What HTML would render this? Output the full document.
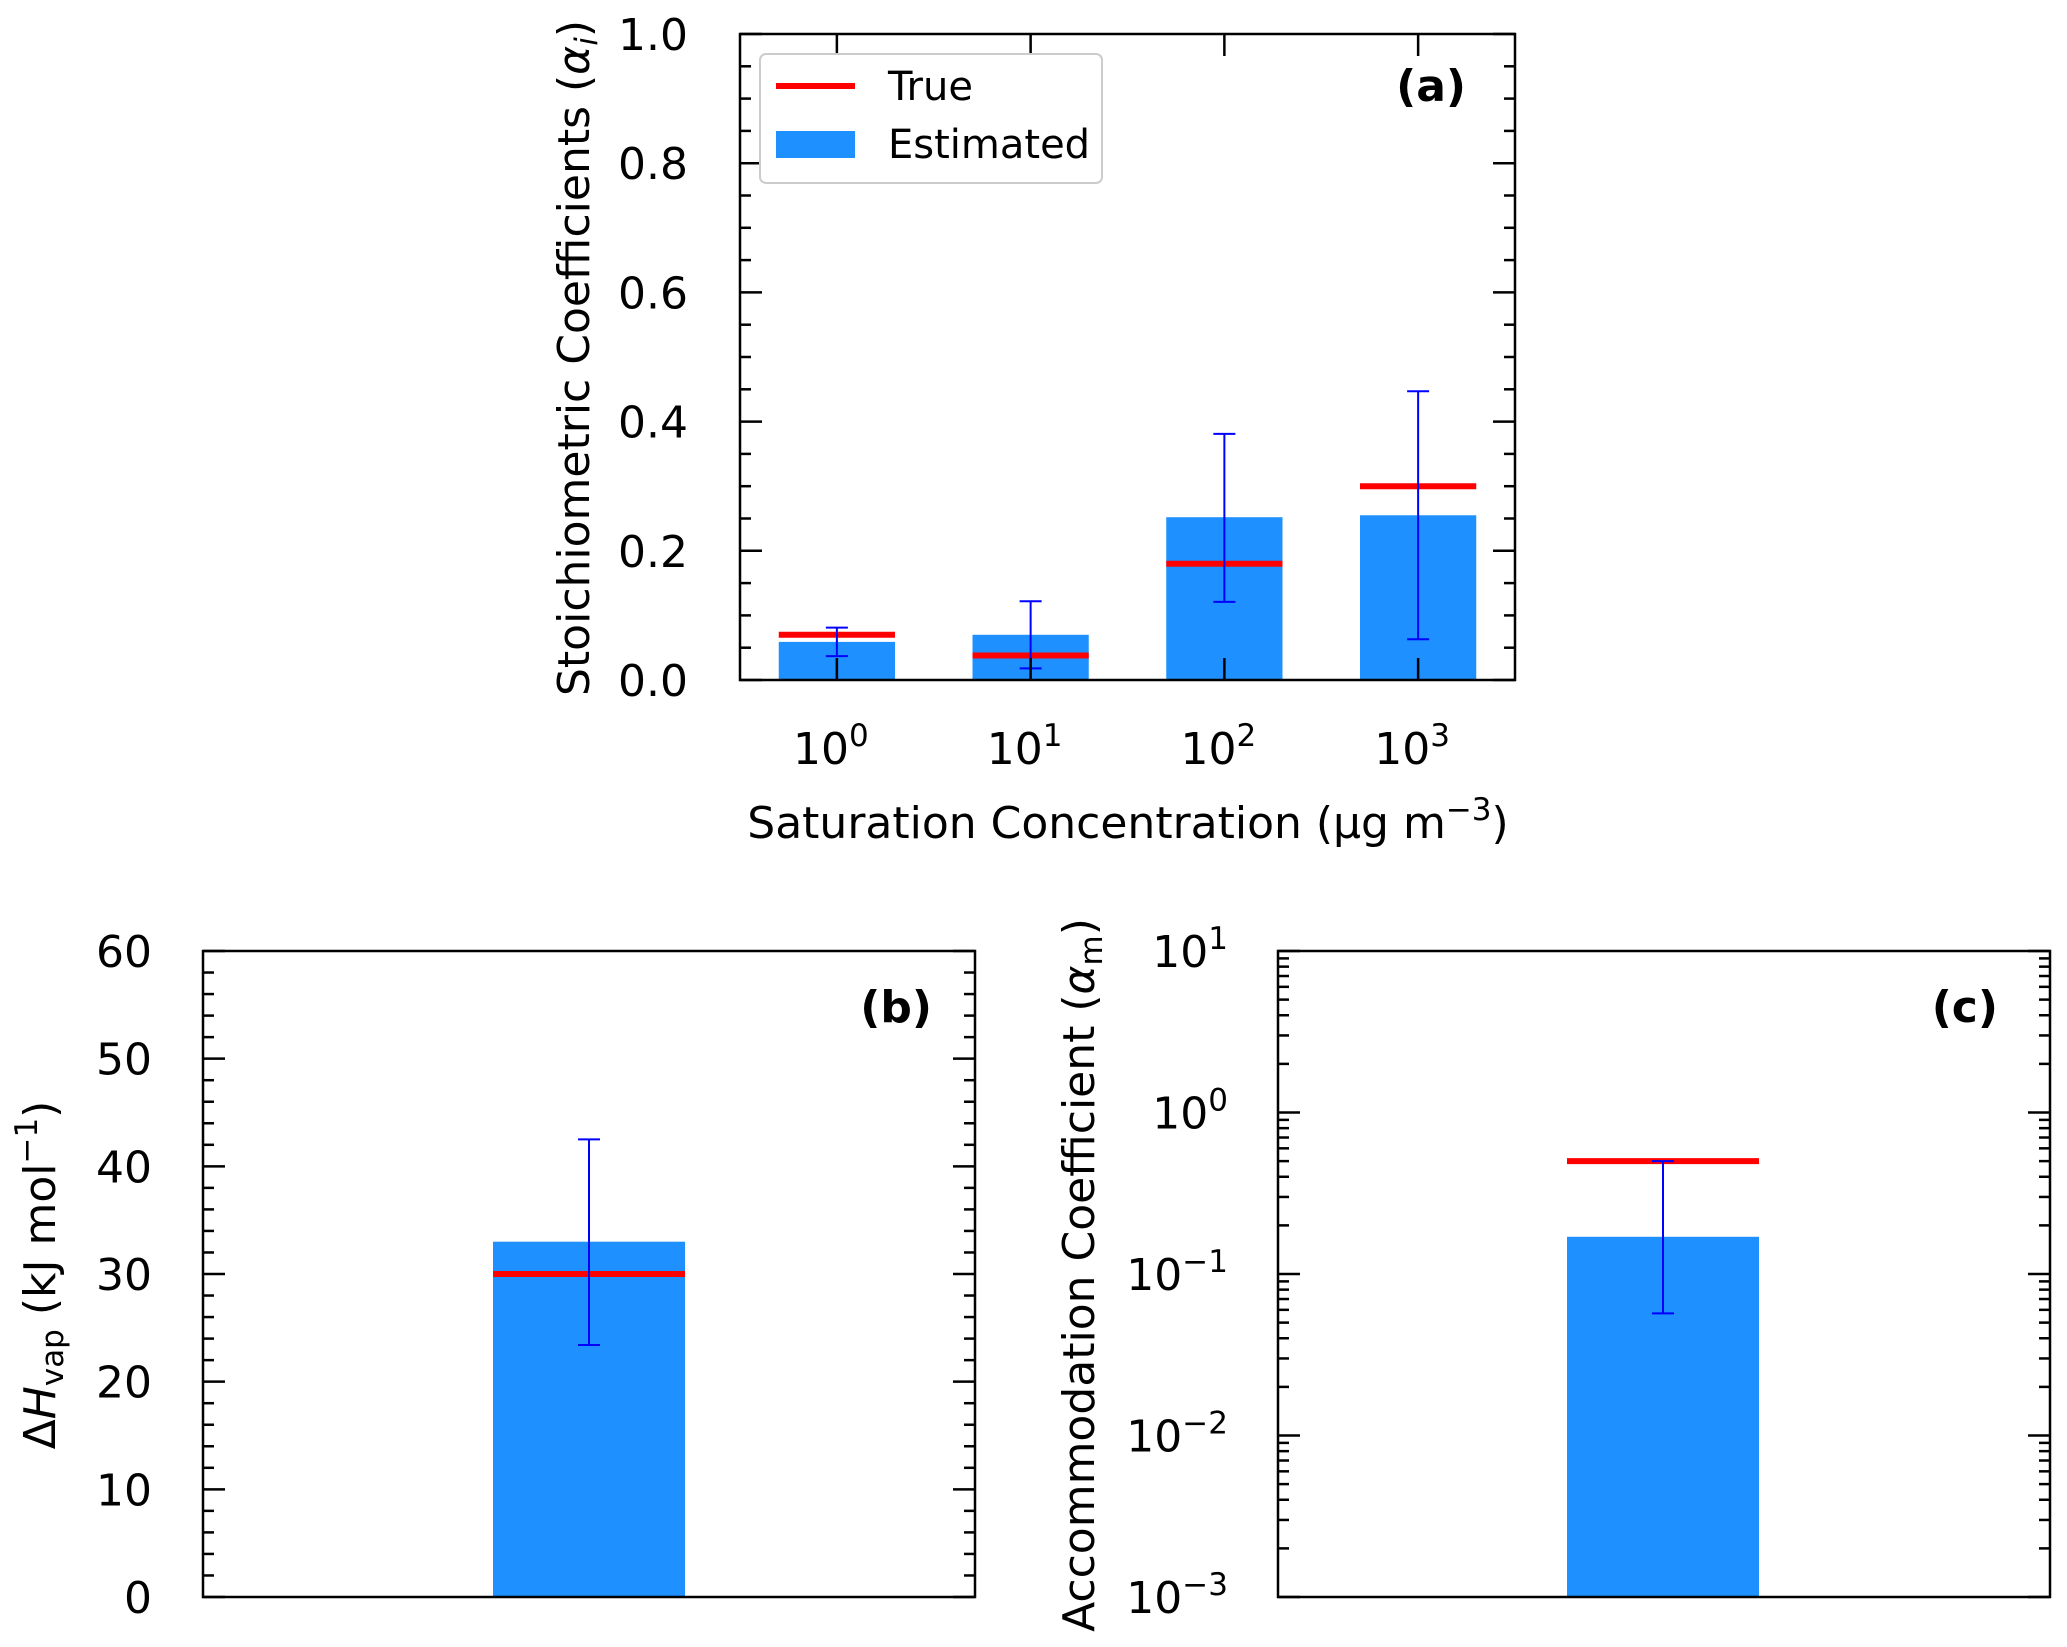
<!DOCTYPE html>
<html><head><meta charset="utf-8"><style>
html,body{margin:0;padding:0;background:#fff;}
svg{display:block;font-family:"DejaVu Sans","Liberation Sans",sans-serif;}
</style></head><body>
<svg id="fig" width="2067" height="1647" viewBox="0 0 2067 1647" xmlns="http://www.w3.org/2000/svg"></svg>
<script>
// Panel (a) data
const catsA = ["0","1","2","3"];
const estA = [0.059, 0.070, 0.252, 0.255];
const trueA = [0.070, 0.038, 0.180, 0.300];
const errLoA = [0.037, 0.018, 0.121, 0.063];
const errHiA = [0.081, 0.122, 0.381, 0.447];
const yTicksA = [0, 0.2, 0.4, 0.6, 0.8, 1.0];
const yTickLabelsA = ["0.0","0.2","0.4","0.6","0.8","1.0"];
// Panel (b) data
const estB = [33.0];
const trueB = [30.0];
const errLoB = [23.4];
const errHiB = [42.5];
const yTicksB = [0,10,20,30,40,50,60];
// Panel (c) data
const estC = [0.17];
const trueC = [0.5];
const errLoC = [0.057];
const errHiC = [0.50];
const yExpC = [-3,-2,-1,0,1];

const NS="http://www.w3.org/2000/svg";
const svg=document.getElementById('fig');
function el(tag,attrs,parent){const e=document.createElementNS(NS,tag);for(const k in attrs)e.setAttribute(k,attrs[k]);(parent||svg).appendChild(e);return e;}
const BLUE="#1e90ff", RED="#ff0000", EB="#0000ff";
const FS=44, SFS=31;

function line(g,x1,y1,x2,y2,stroke,w){return el('line',{x1,y1,x2,y2,stroke,'stroke-width':w},g);}
function frame(g,L,R,T,B){
  el('rect',{x:L,y:T,width:R-L,height:B-T,fill:'none',stroke:'#000','stroke-width':2.5},g);
}
function yTick(g,L,R,y,len){line(g,L,y,L+len,y,'#000',2.5);line(g,R,y,R-len,y,'#000',2.5);}

function bars(g,xs,est,tru,lo,hi,X,Y,half,base){
  for(let i=0;i<est.length;i++){
    const cx=X(xs[i]);
    const b=el('rect',{x:cx-half,y:Y(est[i]),width:2*half,height:base-Y(est[i]),fill:BLUE},g);
    
    
    const t=el('line',{x1:cx-half,x2:cx+half,y1:Y(tru[i]),y2:Y(tru[i]),stroke:RED,'stroke-width':6},g);
    
    
    const e=el('g',{},g);
    
    
    line(e,cx,Y(lo[i]),cx,Y(hi[i]),EB,2);
    line(e,cx-11,Y(lo[i]),cx+11,Y(lo[i]),EB,2);
    line(e,cx-11,Y(hi[i]),cx+11,Y(hi[i]),EB,2);
  }
}

// ---------- Panel (a)
(function(){
  const L=740,R=1515,T=34,B=680;
  const g=el('g',{});
  
  
  const X=v=>L+(v+0.5)/4*(R-L);
  const Y=v=>B-v*(B-T);
  const xs=catsA.map(Number);
  bars(g,xs,estA,trueA,errLoA,errHiA,X,Y,0.3*(R-L)/4,B);
  frame(g,L,R,T,B);
  for(let v=0;v<=1.0001;v+=0.05){const maj=Math.abs(v*5-Math.round(v*5))<1e-6;yTick(g,L,R,Y(v),maj?22:11);}
  yTicksA.forEach((v,i)=>{const t=el('text',{x:688,y:Y(v)+16,'font-size':FS,'text-anchor':'end'},g);t.textContent=yTickLabelsA[i];
    
    });
  xs.forEach((v,i)=>{
    line(g,X(v),B,X(v),B-22,'#000',2.5);line(g,X(v),T,X(v),T+22,'#000',2.5);
    const t=el('text',{x:X(v)-6,y:764,'font-size':FS,'text-anchor':'middle'},g);
    
    
    t.innerHTML='10<tspan dy="-18" font-size="'+SFS+'">'+catsA[i]+'</tspan>';
  });
  const xl=el('text',{x:1128,y:838,'font-size':FS,'text-anchor':'middle'},g);
  
  
  xl.innerHTML='Saturation Concentration (μg m<tspan dy="-18" font-size="'+SFS+'">−3</tspan><tspan dy="18">)</tspan>';
  const yl=el('text',{x:0,y:0,'font-size':FS,'text-anchor':'middle',transform:'translate(589,358) rotate(-90)'},g);
  
  
  yl.innerHTML='Stoichiometric Coefficients (<tspan font-style="italic">α</tspan><tspan font-style="italic" font-size="'+SFS+'" dy="8">i</tspan><tspan dy="-8">)</tspan>';
  const lab=el('text',{x:1466,y:101,'font-size':FS,'font-weight':'bold','text-anchor':'end'},g);
  
  
  lab.textContent='(a)';
  // legend
  const lg=el('g',{},g);
  
  
  el('rect',{x:760,y:54,width:342,height:129,rx:6,fill:'#fff',stroke:'#ccc','stroke-width':2},lg);
  line(lg,776,86,855,86,RED,6);
  el('rect',{x:776,y:131,width:79,height:27,fill:BLUE},lg);
  const t1=el('text',{x:888,y:100,'font-size':40},lg);t1.textContent='True';
  
  
  const t2=el('text',{x:888,y:158,'font-size':40},lg);t2.textContent='Estimated';
  
  
})();

// ---------- Panel (b)
(function(){
  const L=203,R=975,T=951,B=1597;
  const g=el('g',{});
  
  
  const X=v=>(L+R)/2+v;
  const Y=v=>B-v/60*(B-T);
  bars(g,[0],estB,trueB,errLoB,errHiB,X,Y,96,B);
  frame(g,L,R,T,B);
  for(let v=0;v<=60;v+=2)yTick(g,L,R,Y(v),v%10===0?22:11);
  yTicksB.forEach(v=>{const t=el('text',{x:152,y:Y(v)+16,'font-size':FS,'text-anchor':'end'},g);t.textContent=String(v);
    
    });
  const yl=el('text',{x:0,y:0,'font-size':FS,'text-anchor':'middle',transform:'translate(55,1275) rotate(-90)'},g);
  
  
  yl.innerHTML='Δ<tspan font-style="italic">H</tspan><tspan font-size="'+SFS+'" dy="8">vap</tspan><tspan dy="-8"> (kJ mol</tspan><tspan dy="-18" font-size="'+SFS+'">−1</tspan><tspan dy="18">)</tspan>';
  const lab=el('text',{x:932,y:1022,'font-size':FS,'font-weight':'bold','text-anchor':'end'},g);
  
  
  lab.textContent='(b)';
})();

// ---------- Panel (c)
(function(){
  const L=1278,R=2050,T=951,B=1597;
  const g=el('g',{});
  
  
  const X=v=>(L+R)/2+v-0;
  const Y=v=>B-(Math.log10(v)+3)/4*(B-T);
  bars(g,[-1],estC,trueC,errLoC,errHiC,X,Y,96,B);
  frame(g,L,R,T,B);
  for(let e=-3;e<=1;e++){yTick(g,L,R,Y(Math.pow(10,e)),22);
    if(e<1)for(let m=2;m<=9;m++)yTick(g,L,R,Y(m*Math.pow(10,e)),11);}
  yExpC.forEach(e=>{const t=el('text',{x:1228,y:Y(Math.pow(10,e))+16,'font-size':FS,'text-anchor':'end'},g);
    
    
    t.innerHTML='10<tspan dy="-18" font-size="'+SFS+'">'+(e<0?'−'+(-e):e)+'</tspan>';});
  const yl=el('text',{x:0,y:0,'font-size':FS,'text-anchor':'middle',transform:'translate(1094,1275) rotate(-90)'},g);
  
  
  yl.innerHTML='Accommodation Coefficient (<tspan font-style="italic">α</tspan><tspan font-size="'+SFS+'" dy="8">m</tspan><tspan dy="-8">)</tspan>';
  const lab=el('text',{x:1998,y:1022,'font-size':FS,'font-weight':'bold','text-anchor':'end'},g);
  
  
  lab.textContent='(c)';
})();
</script>
</body></html>
